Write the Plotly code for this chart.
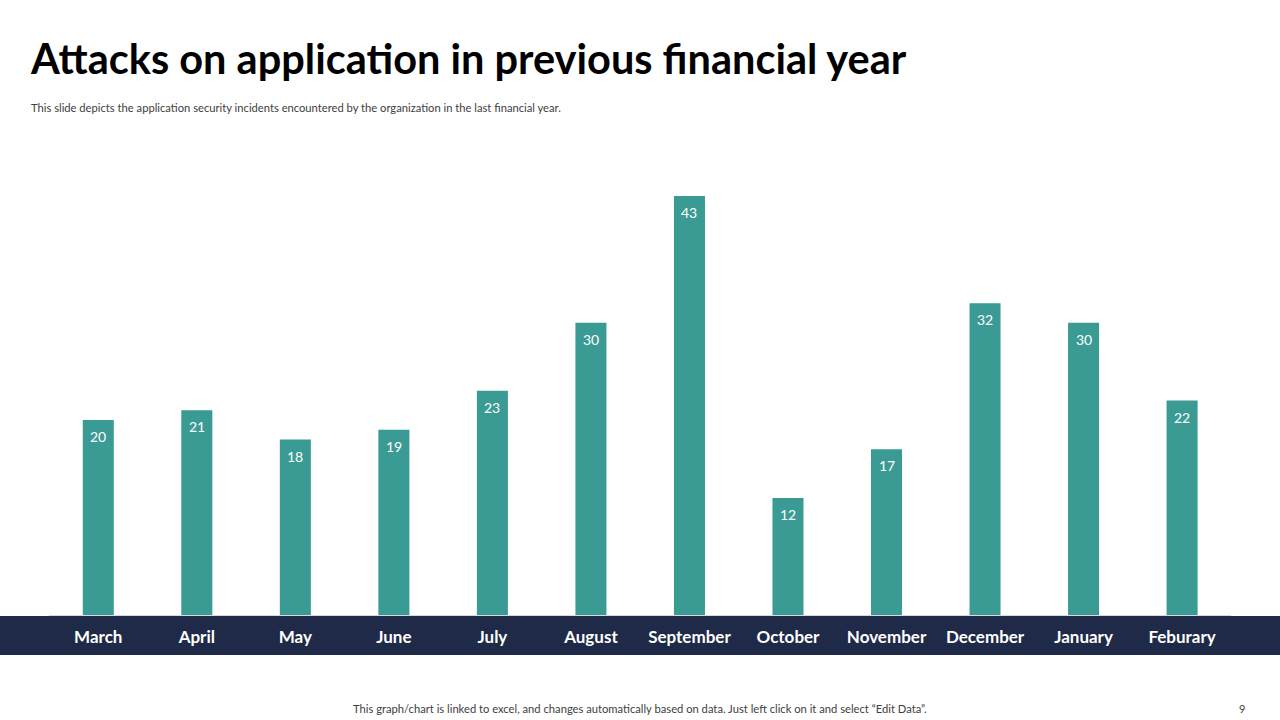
import plotly.graph_objects as go

months = ["March", "April", "May", "June", "July", "August", "September",
          "October", "November", "December", "January", "Feburary"]
attacks = [20, 21, 18, 19, 23, 30, 43, 12, 17, 32, 30, 22]

title_text = "Attacks on application in previous financial year"
subtitle_text = ("This slide depicts the application security incidents encountered "
                 "by the organization in the last financial year.")
footer_text = ("This graph/chart is linked to excel, and changes automatically based on data. "
               "Just left click on it and select \u201cEdit Data\u201d.")
page_no = "9"

BAR = "#3A9A94"
NAVY = "#1E2A47"

fig = go.Figure(go.Bar(
    x=months, y=attacks,
    marker=dict(color=BAR, line=dict(width=0)),
    hoverinfo="skip",
))

value_labels = [
    dict(x=m, y=v, xref="x", yref="y", text=str(v), showarrow=False,
         yanchor="top", yshift=-6,
         font=dict(family="Lato", size=14, color="white"))
    for m, v in zip(months, attacks)
]

fig.update_layout(
    width=1280, height=720,
    margin=dict(l=0, r=0, t=0, b=0),
    paper_bgcolor="white", plot_bgcolor="white",
    showlegend=False,
    bargap=0.685,
    xaxis=dict(
        domain=[0.0383, 0.962],
        showgrid=False, zeroline=False,
        showline=True, linecolor="#D9D9D9", linewidth=1,
        ticks="",
        tickfont=dict(family="Lato", size=17, color="white", weight="bold"),
        ticklabelstandoff=7,
    ),
    yaxis=dict(
        domain=[0.1458, 0.7549],
        range=[0, 45],
        visible=False,
    ),
    shapes=[
        dict(type="rect", xref="paper", yref="paper",
             x0=0, x1=1, y0=(720 - 655) / 720, y1=(720 - 616) / 720,
             fillcolor=NAVY, line=dict(width=0), layer="below"),
    ],
    annotations=value_labels + [
        dict(text="<b>" + title_text + "</b>", xref="paper", yref="paper",
             x=28 / 1280, y=1 - 58 / 720, xanchor="left", yanchor="middle",
             showarrow=False, font=dict(family="Lato", size=41.5, color="black")),
        dict(text=subtitle_text, xref="paper", yref="paper",
             x=29 / 1280, y=1 - 107 / 720, xanchor="left", yanchor="middle",
             showarrow=False, font=dict(family="Lato", size=11.2, color="#404040")),
        dict(text=footer_text, xref="paper", yref="paper",
             x=640 / 1280, y=1 - 708 / 720, xanchor="center", yanchor="middle",
             showarrow=False, font=dict(family="Lato", size=11.2, color="#404040")),
        dict(text=page_no, xref="paper", yref="paper",
             x=1242 / 1280, y=1 - 708 / 720, xanchor="center", yanchor="middle",
             showarrow=False, font=dict(family="Lato", size=11, color="#404040")),
    ],
)

fig.write_html("out.html")
